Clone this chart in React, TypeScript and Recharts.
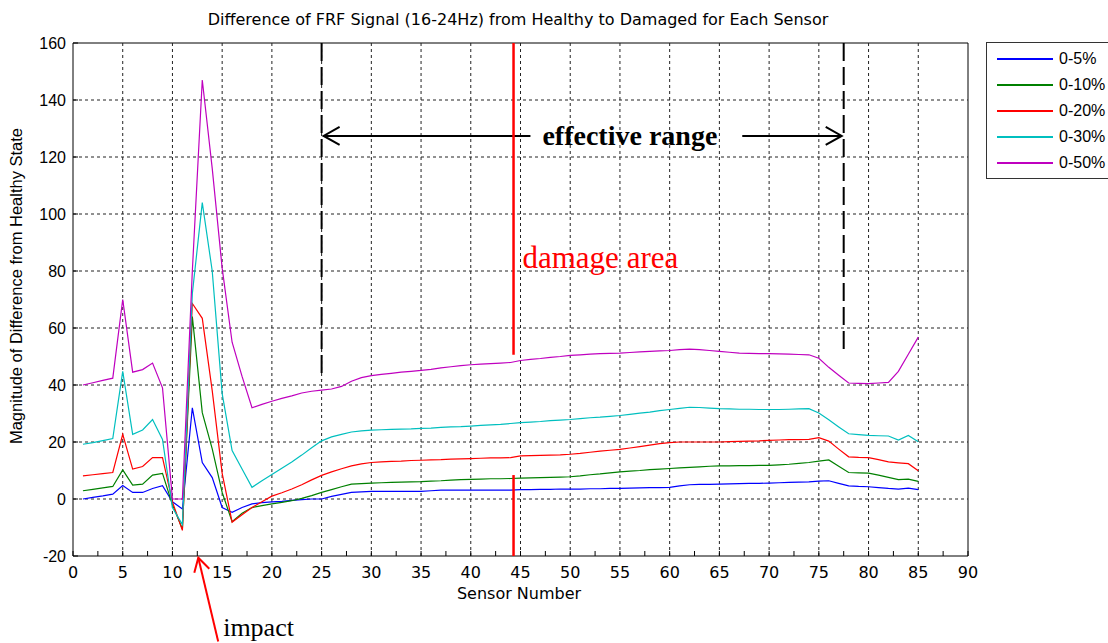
import {
  Line,
  LineChart,
  ReferenceArea,
  ReferenceDot,
  ReferenceLine,
  XAxis,
  YAxis,
} from "recharts";

// sensor positions along the plate
const sensors = Array.from({ length: 85 }, (_, i) => i + 1);

// magnitude of difference from healthy state, one value per sensor
const dmg05 = [
  0, 0.6, 1.1, 1.7, 4.7, 2.3, 2.3, 3.7, 4.7, -1,
  -3.5, 32, 12.8, 7.5, -3, -4.7, -3, -1.7, -1.3, -1,
  -0.8, -0.5, -0.2, 0, 0, 0.9, 1.6, 2.3, 2.5, 2.7,
  2.7, 2.7, 2.7, 2.7, 2.7, 2.9, 3.1, 3.1, 3.1, 3.1,
  3.1, 3.1, 3.1, 3.1, 3.3, 3.3, 3.4, 3.4, 3.5, 3.5,
  3.5, 3.6, 3.6, 3.7, 3.7, 3.8, 3.9, 4.0, 4.0, 4.1,
  4.6, 5.0, 5.1, 5.1, 5.2, 5.3, 5.4, 5.5, 5.5, 5.6,
  5.7, 5.8, 5.9, 6.0, 6.3, 6.4, 5.5, 4.6, 4.4, 4.3,
  4.0, 3.7, 3.5, 3.8, 3.3,
];
const dmg10 = [
  2.9, 3.4, 3.9, 4.4, 10.2, 4.9, 5.2, 8.4, 9.0, -2,
  -10.5, 64, 30.3, 17.6, 2.3, -8, -5, -3, -2.3, -1.7,
  -1.2, -0.6, 0.2, 1.2, 2.3, 3.3, 4.3, 5.2, 5.4, 5.6,
  5.7, 5.8, 5.9, 6.0, 6.1, 6.3, 6.4, 6.6, 6.8, 6.9,
  7.0, 7.1, 7.1, 7.2, 7.3, 7.4, 7.5, 7.6, 7.7, 7.8,
  8.1, 8.5, 8.8, 9.2, 9.5, 9.8, 10.0, 10.3, 10.5, 10.7,
  10.9, 11.1, 11.3, 11.5, 11.6, 11.6, 11.7, 11.7, 11.8, 11.8,
  12.0, 12.2, 12.5, 12.8, 13.3, 13.7, 11.5, 9.3, 9.2, 9.1,
  8.4, 7.6, 6.8, 7.0, 6.2,
];
const dmg20 = [
  8.1, 8.5, 8.9, 9.3, 22.7, 10.5, 11.4, 14.5, 14.5, -1,
  -11, 68.6, 63.4, 38, 9, -8.1, -5.5, -3, -1, 1.0,
  2.2, 3.5, 5.0, 6.7, 8.3, 9.5, 10.6, 11.6, 12.3, 12.8,
  13.0, 13.2, 13.3, 13.5, 13.6, 13.7, 13.8, 14.0, 14.1, 14.2,
  14.3, 14.4, 14.4, 14.5, 15.1, 15.2, 15.3, 15.4, 15.5, 15.7,
  16.0, 16.4, 16.8, 17.1, 17.4, 17.9, 18.4, 18.9, 19.4, 19.8,
  20.0, 20.0, 20.0, 20.0, 20.0, 20.1, 20.2, 20.3, 20.4, 20.6,
  20.7, 20.8, 20.8, 20.9, 21.5, 20.3, 17.5, 14.8, 14.6, 14.5,
  13.8, 13.0, 12.7, 12.4, 9.9,
];
const dmg30 = [
  19.2, 19.8, 20.5, 21.2, 44.8, 22.7, 24.2, 27.9, 20.9, -3,
  -9, 72, 104, 80, 37, 17, 10.5, 4.1, 6.4, 8.6,
  10.8, 13.0, 15.4, 18.0, 20.4, 21.8, 22.7, 23.5, 23.9, 24.2,
  24.3, 24.4, 24.5, 24.6, 24.8, 24.9, 25.1, 25.3, 25.4, 25.6,
  25.8, 26.0, 26.2, 26.5, 26.8, 27.0, 27.2, 27.5, 27.7, 27.9,
  28.2, 28.5, 28.7, 29.0, 29.3, 29.7, 30.1, 30.5, 31.0, 31.4,
  31.8, 32.2, 32.1, 31.9, 31.7, 31.6, 31.5, 31.5, 31.4, 31.4,
  31.4, 31.5, 31.6, 31.7, 30.2, 27.8, 25.3, 22.9, 22.6, 22.3,
  22.2, 22.1, 20.7, 22.3, 20.1,
];
const dmg50 = [
  40.0, 40.8, 41.6, 42.4, 70.0, 44.5, 45.4, 47.7, 39.0, 0,
  0, 80, 147, 116, 81, 55, 43, 32, 33.2, 34.3,
  35.3, 36.2, 37.2, 37.8, 38.2, 38.6, 39.5, 41.3, 42.6, 43.3,
  43.7, 44.1, 44.5, 44.8, 45.1, 45.5, 46.0, 46.4, 46.8, 47.1,
  47.3, 47.5, 47.7, 47.9, 48.6, 49.0, 49.3, 49.7, 50.0, 50.4,
  50.6, 50.8, 51.0, 51.1, 51.2, 51.4, 51.6, 51.8, 52.0, 52.1,
  52.4, 52.6, 52.4, 52.1, 51.8, 51.5, 51.2, 51.1, 51.0, 51.0,
  50.9, 50.8, 50.7, 50.6, 49.4, 46.2, 43.4, 40.7, 40.6, 40.5,
  40.7, 40.9, 44.8, 50.8, 56.8,
];

const seriesKeys = ["d05", "d10", "d20", "d30", "d50"];
const seriesNames = ["0-5%", "0-10%", "0-20%", "0-30%", "0-50%"];
const seriesColors = ["#0000ff", "#008000", "#ff0000", "#00bfbf", "#bf00bf"];
const seriesValues = [dmg05, dmg10, dmg20, dmg30, dmg50];

const xTicks = [
  0, 2.5, 5, 7.5, 10, 12.5, 15, 17.5, 20, 22.5, 25, 27.5, 30, 32.5, 35, 37.5,
  40, 42.5, 45, 47.5, 50, 52.5, 55, 57.5, 60, 62.5, 65, 67.5, 70, 72.5, 75,
  77.5, 80, 82.5, 85, 87.5, 90,
];
const xGrid = [5, 10, 15, 20, 25, 30, 35, 40, 45, 50, 55, 60, 65, 70, 75, 80, 85];
const yTicks = [-20, 0, 20, 40, 60, 80, 100, 120, 140, 160];
const yGrid = [0, 20, 40, 60, 80, 100, 120, 140];

// annotation anchors (sensor, magnitude)
const rangeStart = 25;
const rangeEnd = 77.5;
const rangeLevel = 127.4;
const damageSensor = 44.3;

const data = sensors.map((s, i) => {
  const row: Record<string, number> = { sensor: s };
  seriesKeys.forEach((k, j) => {
    row[k] = seriesValues[j][i];
  });
  return row;
});

const sans = "'Liberation Sans', Arial, sans-serif";
const wide = "'DejaVu Sans', sans-serif";
const serif = "'Liberation Serif', 'Times New Roman', serif";

function BottomTick(props: any) {
  const { x, y, payload } = props;
  const v = payload.value;
  return (
    <g>
      <line x1={x} x2={x} y1={y} y2={y - 5} stroke="#000" />
      {v % 5 === 0 && (
        <text x={x} y={y + 22} textAnchor="middle" fontSize={16} fontFamily={wide} fill="#000">
          {v}
        </text>
      )}
    </g>
  );
}

function TopTick(props: any) {
  const { x, y } = props;
  return <line x1={x} x2={x} y1={y} y2={y + 5} stroke="#000" />;
}

function LeftTick(props: any) {
  const { x, y, payload } = props;
  return (
    <g>
      <line x1={x} x2={x + 5} y1={y} y2={y} stroke="#000" />
      <text x={x - 7} y={y + 6} textAnchor="end" fontSize={16} fontFamily={sans} fill="#000">
        {payload.value}
      </text>
    </g>
  );
}

function RightTick(props: any) {
  const { x, y } = props;
  return <line x1={x} x2={x - 5} y1={y} y2={y} stroke="#000" />;
}

function App() {
  return (
    <div
      style={{
        position: "absolute",
        left: 0,
        top: 0,
        width: 1108,
        height: 643,
        overflow: "hidden",
        background: "#fff",
      }}
    >
      <div
        style={{
          position: "absolute",
          left: 0,
          width: 1036,
          top: 10,
          textAlign: "center",
          fontFamily: wide,
          fontSize: 16,
          color: "#000",
          whiteSpace: "nowrap",
        }}
      >
        Difference of FRF Signal (16-24Hz) from Healthy to Damaged for Each Sensor
      </div>
      <div
        style={{
          position: "absolute",
          left: 16,
          top: 286,
          transform: "translate(-50%, -50%) rotate(-90deg)",
          fontFamily: sans,
          fontSize: 16.5,
          color: "#000",
          whiteSpace: "nowrap",
        }}
      >
        Magnitude of Difference from Healthy State
      </div>
      <LineChart
        width={1108}
        height={643}
        data={data}
        margin={{ top: 43, right: 140, bottom: 57, left: 0 }}
        style={{ position: "absolute", left: 0, top: 0 }}
      >
        <XAxis
          dataKey="sensor"
          type="number"
          domain={[0, 90]}
          ticks={xTicks}
          interval={0}
          height={30}
          axisLine={false}
          tickLine={false}
          tickSize={0}
          tickMargin={0}
          tick={<BottomTick />}
        />
        <XAxis
          xAxisId="top"
          orientation="top"
          dataKey="sensor"
          type="number"
          domain={[0, 90]}
          ticks={xTicks}
          interval={0}
          height={0}
          axisLine={false}
          tickLine={false}
          tickSize={0}
          tickMargin={0}
          tick={<TopTick />}
        />
        <YAxis
          type="number"
          domain={[-20, 160]}
          ticks={yTicks}
          interval={0}
          width={73}
          axisLine={false}
          tickLine={false}
          tickSize={0}
          tickMargin={0}
          tick={<LeftTick />}
        />
        <YAxis
          yAxisId="right"
          orientation="right"
          type="number"
          domain={[-20, 160]}
          ticks={yTicks}
          interval={0}
          width={0}
          axisLine={false}
          tickLine={false}
          tickSize={0}
          tickMargin={0}
          tick={<RightTick />}
        />
        {xGrid.map((g) => (
          <ReferenceLine key={"vx" + g} x={g} stroke="#222" strokeDasharray="3 3" />
        ))}
        {yGrid.map((g) => (
          <ReferenceLine key={"hy" + g} y={g} stroke="#222" strokeDasharray="3 3" />
        ))}
        <ReferenceArea x1={0} x2={90} y1={-20} y2={160} fill="none" stroke="#000" strokeWidth={1} />
        {seriesKeys.map((k, j) => (
          <Line
            key={k}
            dataKey={k}
            name={seriesNames[j]}
            stroke={seriesColors[j]}
            strokeWidth={1.2}
            dot={false}
            type="linear"
            isAnimationActive={false}
          />
        ))}
        <ReferenceLine
          segment={[{ x: rangeStart, y: 160 }, { x: rangeStart, y: 42 }]}
          stroke="#000"
          strokeWidth={2}
          strokeDasharray="18 6"
        />
        <ReferenceLine
          segment={[{ x: rangeEnd, y: 160 }, { x: rangeEnd, y: 52.4 }]}
          stroke="#000"
          strokeWidth={2}
          strokeDasharray="18 6"
        />
        <ReferenceLine
          segment={[{ x: rangeStart + 0.2, y: rangeLevel }, { x: 46, y: rangeLevel }]}
          stroke="#000"
          strokeWidth={2}
        />
        <ReferenceLine
          segment={[{ x: 67.3, y: rangeLevel }, { x: rangeEnd - 0.2, y: rangeLevel }]}
          stroke="#000"
          strokeWidth={2}
        />
        <ReferenceDot
          x={rangeStart + 0.2}
          y={rangeLevel}
          shape={(p: any) => (
            <polyline
              points={`${p.cx + 16},${p.cy - 9} ${p.cx},${p.cy} ${p.cx + 16},${p.cy + 9}`}
              fill="none"
              stroke="#000"
              strokeWidth={2}
            />
          )}
        />
        <ReferenceDot
          x={rangeEnd - 0.2}
          y={rangeLevel}
          shape={(p: any) => (
            <polyline
              points={`${p.cx - 16},${p.cy - 9} ${p.cx},${p.cy} ${p.cx - 16},${p.cy + 9}`}
              fill="none"
              stroke="#000"
              strokeWidth={2}
            />
          )}
        />
        <ReferenceDot
          x={56}
          y={rangeLevel}
          shape={(p: any) => (
            <text
              x={p.cx}
              y={p.cy + 9}
              textAnchor="middle"
              fontFamily={serif}
              fontWeight="bold"
              fontSize={28}
              fill="#000"
            >
              effective range
            </text>
          )}
        />
        <ReferenceLine
          segment={[{ x: damageSensor, y: 160 }, { x: damageSensor, y: 50.6 }]}
          stroke="#ff0000"
          strokeWidth={2.5}
        />
        <ReferenceLine
          segment={[{ x: damageSensor, y: 8.4 }, { x: damageSensor, y: -20 }]}
          stroke="#ff0000"
          strokeWidth={2.5}
        />
        <ReferenceDot
          x={45.2}
          y={81}
          shape={(p: any) => (
            <text x={p.cx} y={p.cy} fontFamily={serif} fontSize={31} fill="#ff0000">
              damage area
            </text>
          )}
        />
        <ReferenceLine
          segment={[{ x: 14.6, y: -50 }, { x: 12.6, y: -20.6 }]}
          ifOverflow="visible"
          stroke="#ff0000"
          strokeWidth={2}
        />
        <ReferenceDot
          x={12.6}
          y={-20.6}
          ifOverflow="visible"
          shape={(p: any) => (
            <polyline
              points={`${p.cx - 4},${p.cy + 15} ${p.cx},${p.cy} ${p.cx + 11},${p.cy + 11}`}
              fill="none"
              stroke="#ff0000"
              strokeWidth={2}
            />
          )}
        />
        <ReferenceDot
          x={15.1}
          y={-48.2}
          ifOverflow="visible"
          shape={(p: any) => (
            <text x={p.cx} y={p.cy} fontFamily={serif} fontSize={26} fill="#000">
              impact
            </text>
          )}
        />
      </LineChart>
      <div
        style={{
          position: "absolute",
          left: 519,
          top: 584,
          transform: "translateX(-50%)",
          fontFamily: wide,
          fontSize: 16,
          color: "#000",
          whiteSpace: "nowrap",
        }}
      >
        Sensor Number
      </div>
      <div
        style={{
          position: "absolute",
          left: 986,
          top: 42,
          width: 140,
          height: 137,
          border: "1px solid #333",
          background: "#fff",
          boxSizing: "border-box",
        }}
      >
        {seriesNames.map((n, j) => (
          <div
            key={n}
            style={{
              position: "absolute",
              left: 10,
              top: 6 + j * 26,
              height: 20,
              display: "flex",
              alignItems: "center",
              fontFamily: sans,
              fontSize: 16,
              color: "#000",
              whiteSpace: "nowrap",
            }}
          >
            <div
              style={{
                width: 56,
                height: 2,
                background: seriesColors[j],
                marginRight: 6,
              }}
            />
            {n}
          </div>
        ))}
      </div>
    </div>
  );
}

export default App;
